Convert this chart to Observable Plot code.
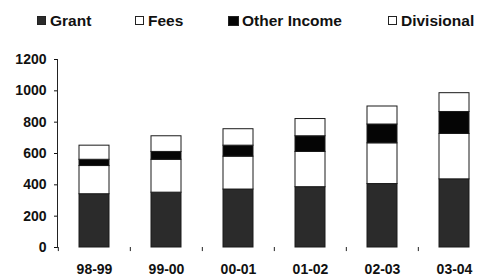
<!DOCTYPE html>
<html>
<head>
<meta charset="utf-8">
<script src="https://cdn.jsdelivr.net/npm/d3@7"></script>
<script src="https://cdn.jsdelivr.net/npm/@observablehq/plot@0.6"></script>
<style>
  body { margin: 0; background: #fff; font-family: "Liberation Sans", Arial, sans-serif; }
  #wrap { position: relative; width: 479px; height: 278px; overflow: hidden; }
  #legend { position: relative; height: 35px; width: 479px; }
  .item { position: absolute; top: 13px; font-weight: bold; font-size: 15.5px; line-height: 16px; color: #111; white-space: nowrap; }
  .sw { position: absolute; top: 3px; width: 9px; height: 9px; box-sizing: border-box; border: 1px solid #222; }
  #chart svg { display: block; }
</style>
</head>
<body>
<div id="wrap">
  <div id="legend"></div>
  <div id="chart"></div>
</div>
<script>
const years = ["98-99", "99-00", "00-01", "01-02", "02-03", "03-04"];
const series = ["Grant", "Fees", "Other Income", "Divisional"];
const grant = [340, 350, 370, 385, 405, 435];
const fees = [180, 210, 210, 225, 260, 290];
const otherIncome = [40, 50, 70, 100, 120, 140];
const divisional = [90, 100, 105, 110, 115, 120];
const yTicks = [0, 200, 400, 600, 800, 1000, 1200];
const colors = ["#2b2b2b", "#ffffff", "#050505", "#ffffff"];

const valuesBySeries = [grant, fees, otherIncome, divisional];
const data = [];
series.forEach((s, si) => years.forEach((y, i) => data.push({year: y, series: s, value: valuesBySeries[si][i]})));

// legend
const legendPos = [37, 135, 228, 388];
const legend = document.getElementById("legend");
series.forEach((s, i) => {
  const d = document.createElement("div");
  d.className = "item";
  d.style.left = legendPos[i] + "px";
  d.style.paddingLeft = (i === 2 ? 14 : 13) + "px";
  const sw = document.createElement("span");
  sw.className = "sw";
  sw.style.left = "0px";
  sw.style.background = colors[i];
  if (i === 2) { sw.style.width = "11px"; sw.style.height = "10px"; }
  d.appendChild(sw);
  d.appendChild(document.createTextNode(s));
  legend.appendChild(d);
});

const step = 72.33;
const plot = Plot.plot({
  width: 479,
  height: 243,
  marginLeft: 57,
  marginRight: 0,
  marginTop: 24,
  marginBottom: 31,
  style: {fontFamily: "'Liberation Sans', Arial, sans-serif", fontSize: "14px", fontWeight: "bold", color: "#111", background: "#fff", overflow: "visible"},
  x: {type: "band", domain: years, range: [57, 491], paddingInner: 0.585, paddingOuter: 0.2925, label: null},
  y: {domain: [0, 1200], label: null},
  color: {domain: series, range: colors},
  marks: [
    Plot.barY(data, {x: "year", y: "value", fill: "series", stroke: "#1a1a1a", strokeWidth: 1, order: series, z: "series"}),
    Plot.ruleY([0], {stroke: "#222", strokeWidth: 1.2, x1: null}),
    Plot.ruleX(years, {x: d => d, y1: 0, y2: -26, dx: -step / 2, stroke: "#222", clip: false}),
    Plot.frame({anchor: "left", stroke: "#222"}),
    Plot.axisY({ticks: yTicks, tickSize: 3, tickPadding: 8, tickFormat: d => String(d), fontSize: 14, fontWeight: "bold"}),
    Plot.axisX({tickSize: 0, tickPadding: 17, fontSize: 14, fontWeight: "bold"})
  ]
});
document.getElementById("chart").appendChild(plot);
</script>
</body>
</html>
